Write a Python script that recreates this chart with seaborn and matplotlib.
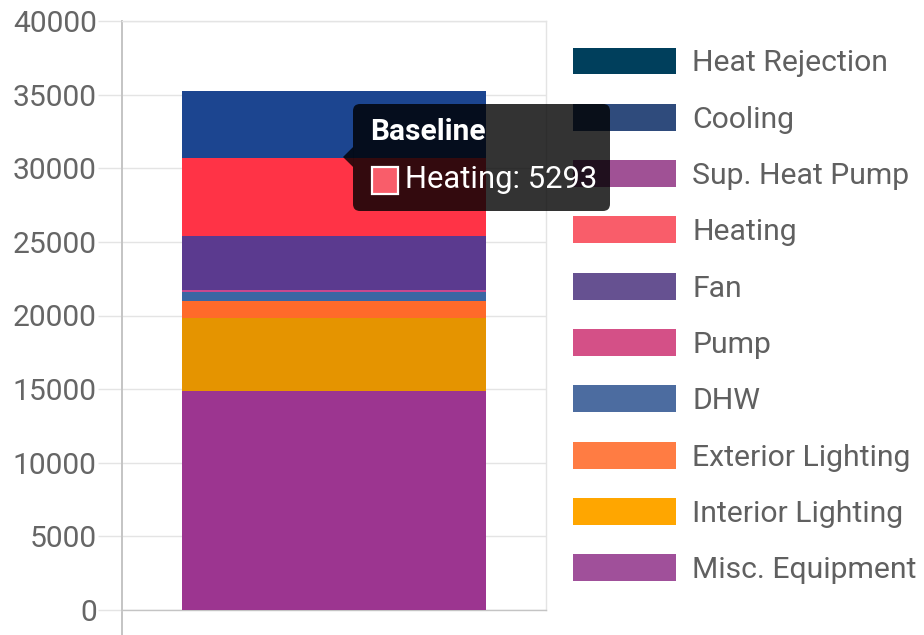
import matplotlib
matplotlib.use("Agg")
import matplotlib.pyplot as plt
import seaborn as sns
import numpy as np
import pandas as pd
from matplotlib.patches import Patch, FancyBboxPatch, Polygon, Rectangle

# ---- data ----
scenario = ["Baseline"]
# stack order: bottom -> top
categories = ["Misc. Equipment", "Interior Lighting", "Exterior Lighting", "DHW",
              "Pump", "Fan", "Heating", "Sup. Heat Pump", "Cooling", "Heat Rejection"]
values = [14900, 4960, 1130, 630, 100, 3700, 5293, 0, 4550, 0]
bar_colors = ["#9c3590", "#e59400", "#ff6a2a", "#3b66a3", "#c8488e",
              "#5b3a8f", "#ff3346", "#a05195", "#1c4590", "#003f5c"]
legend_colors = ["#a0509a", "#ffa600", "#ff7c43", "#4c6ca0", "#d45087",
                 "#665191", "#f95d6a", "#a05195", "#2f4b7c", "#003f5c"]
yticks = [0, 5000, 10000, 15000, 20000, 25000, 30000, 35000, 40000]
tooltip_title = "Baseline"
tooltip_category = "Heating"

sns.set_theme(style="white")
plt.rcParams["font.family"] = ["Roboto", "DejaVu Sans"]

W, H = 924, 635
fig = plt.figure(figsize=(W / 100, H / 100), dpi=100)
ax = fig.add_axes([122 / W, 1 - 610 / H, (546 - 122) / W, (610 - 21) / H])

cum = np.cumsum(values)
df = pd.DataFrame({"scenario": scenario * len(categories),
                   "category": categories, "top": cum})
for i in reversed(range(len(categories))):
    sub = df.iloc[[i]]
    sns.barplot(data=sub, x="scenario", y="top", color=bar_colors[i],
                saturation=1, width=0.717, linewidth=0, ax=ax, zorder=3)

ax.set_xlim(-0.5, 0.5)
ax.set_ylim(0, 40000)
ax.set_yticks(yticks)
ax.set_yticklabels([str(t) for t in yticks])
ax.set_xticks([-0.5])
ax.set_xticklabels([""])
ax.set_xlabel("")
ax.set_ylabel("")

grid_c = "#e4e4e4"
ax.yaxis.grid(True, color=grid_c, linewidth=1.0, zorder=0)
ax.tick_params(axis="y", length=17, width=1.0, color=grid_c, pad=1.2,
               labelsize=21.6, labelcolor="#666666", left=True)
ax.tick_params(axis="x", length=18, width=1.4, color="#c4c4c4", bottom=True)
for s in ["top", "right"]:
    ax.spines[s].set_color(grid_c)
    ax.spines[s].set_linewidth(1.0)
ax.spines["left"].set_color("#c4c4c4")
ax.spines["left"].set_linewidth(1.4)
ax.spines["bottom"].set_color("#c4c4c4")
ax.spines["bottom"].set_linewidth(1.0)

# ---- legend (top -> bottom) ----
handles = [Patch(facecolor=legend_colors[i], edgecolor="none")
           for i in reversed(range(len(categories)))]
labels = [categories[i] for i in reversed(range(len(categories)))]
leg = fig.legend(handles, labels, loc="upper left",
                 bbox_to_anchor=(573 / W, 1 - 47.5 / H), frameon=False,
                 fontsize=21.7, handlelength=3.42, handleheight=1.0,
                 handletextpad=0.53, labelspacing=0.88, borderpad=0,
                 borderaxespad=0)
for t in leg.get_texts():
    t.set_color("#606060")

# ---- tooltip ----
tr = fig.dpi_scale_trans
box = FancyBboxPatch((3.53, (H - 211) / 100), 2.57, 1.07,
                     boxstyle="round,pad=0,rounding_size=0.07",
                     facecolor="black", alpha=0.8, edgecolor="none",
                     transform=tr, zorder=10)
fig.patches.append(box)
tri = Polygon([(3.43, (H - 157) / 100), (3.531, (H - 147) / 100), (3.531, (H - 167) / 100)],
              closed=True, facecolor="black", alpha=0.8, edgecolor="none",
              transform=tr, zorder=10)
fig.patches.append(tri)
hi = categories.index(tooltip_category)
sq = Rectangle((3.715, (H - 194) / 100), 0.26, 0.27, facecolor=legend_colors[hi],
               edgecolor="white", linewidth=1.6, transform=tr, zorder=11)
fig.patches.append(sq)
fig.text(3.70, (H - 132) / 100, tooltip_title, transform=tr, color="white",
         fontsize=21.5, fontweight="bold", va="center", ha="left", zorder=12)
fig.text(4.05, (H - 180) / 100, f"{tooltip_category}: {values[hi]}", transform=tr,
         color="white", fontsize=22.3, va="center", ha="left", zorder=12)

fig.savefig("out.png", dpi=100)
